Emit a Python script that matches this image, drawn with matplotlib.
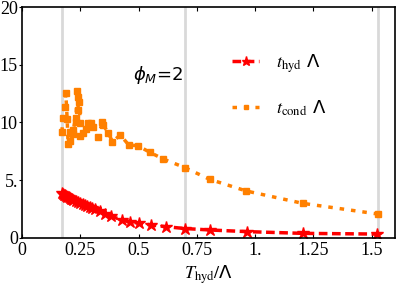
import matplotlib
matplotlib.use("Agg")
import matplotlib.pyplot as plt

# hydraulic time t_hyd * Lambda vs T_hyd / Lambda
hyd_x = [0.170, 0.175, 0.180, 0.185, 0.190, 0.195, 0.200, 0.205, 0.210, 0.215,
         0.220, 0.230, 0.240, 0.250, 0.260, 0.270, 0.280, 0.290, 0.300, 0.315,
         0.334, 0.355, 0.384, 0.427, 0.462, 0.502, 0.555, 0.616, 0.698, 0.808,
         0.966, 1.204, 1.523]
hyd_y = [3.90, 3.82, 3.75, 3.69, 3.63, 3.57, 3.51, 3.46, 3.41, 3.36,
         3.31, 3.21, 3.12, 3.03, 2.94, 2.85, 2.76, 2.68, 2.60, 2.48,
         2.30, 2.10, 1.87, 1.58, 1.42, 1.27, 1.13, 0.98, 0.82, 0.69,
         0.55, 0.40, 0.34]

# conduction time t_cond * Lambda
cond_x = [0.171, 0.177, 0.185, 0.188, 0.194, 0.198, 0.208, 0.208, 0.217, 0.220,
          0.230, 0.231, 0.237, 0.241, 0.241, 0.244, 0.251, 0.251, 0.262, 0.274,
          0.284, 0.298, 0.305, 0.327, 0.345, 0.348, 0.370, 0.388, 0.422, 0.458,
          0.498, 0.548, 0.607, 0.698, 0.805, 0.962, 1.204, 1.525]
cond_y = [9.20, 10.36, 11.37, 12.53, 10.30, 8.11, 9.20, 8.42, 8.98, 9.35,
          10.36, 10.00, 12.75, 12.23, 11.08, 11.75, 9.93, 8.86, 9.06, 9.41,
          9.98, 9.98, 9.64, 8.72, 10.07, 9.78, 9.12, 8.34, 8.92, 8.05,
          7.99, 7.42, 6.83, 6.10, 5.08, 4.07, 3.00, 2.08]

grid_x = [0.171, 0.698, 1.528]

xticks = [0, 0.25, 0.5, 0.75, 1.0, 1.25, 1.5]
xtick_labels = ["0", "0.25", "0.5", "0.75", "1.", "1.25", "1.5"]
yticks = [0, 5, 10, 15, 20]
ytick_labels = ["0", "5.", "10", "15", "20"]

plt.rcParams["font.family"] = ["Liberation Serif", "DejaVu Serif"]
plt.rcParams["mathtext.fontset"] = "stix"

fig = plt.figure(figsize=(3.99, 2.92), dpi=100)
ax = fig.add_axes([0.055, 0.185, 0.935, 0.791])

for gx in grid_x:
    ax.axvline(gx, color="#d9d9d9", lw=2, zorder=0)

ax.plot(hyd_x, hyd_y, color="red", ls=(0, (2.5, 1.3)), lw=2.5,
        marker="*", ms=9, label=r"$t_{\rm hyd}$ Λ")
ax.plot(cond_x, cond_y, color="#ff8000", ls=(0, (1.3, 2.0)), lw=2.5,
        marker="s", ms=4.5, label=r"$t_{\rm cond}$ Λ")

ax.set_xlim(0, 1.6)
ax.set_ylim(0, 20)
ax.set_xticks(xticks)
ax.set_xticklabels(xtick_labels, family=["Liberation Serif"])
ax.set_yticks(yticks)
ax.set_yticklabels(ytick_labels, family=["Liberation Serif"])
ax.tick_params(axis="x", direction="in", top=True, length=3, labelsize=13, pad=3)
ax.tick_params(axis="y", direction="out", length=2, labelsize=13, pad=1)
for s in ax.spines.values():
    s.set_linewidth(1.2)

ax.set_xlabel(r"$T_{\rm hyd}/$Λ", fontsize=13, family=["DejaVu Sans"], labelpad=3)

ax.text(0.475, 14.1, r"$\phi_M$=2", fontsize=13, family=["DejaVu Sans"],
        math_fontfamily="dejavusans", va="center")

ax.legend(loc="upper left", bbox_to_anchor=(0.52, 0.875), frameon=False,
          prop={"family": "DejaVu Sans", "size": 13}, handlelength=1.5,
          labelspacing=1.3, handletextpad=0.9, markerscale=0.75)

fig.savefig("out.png", dpi=100)
